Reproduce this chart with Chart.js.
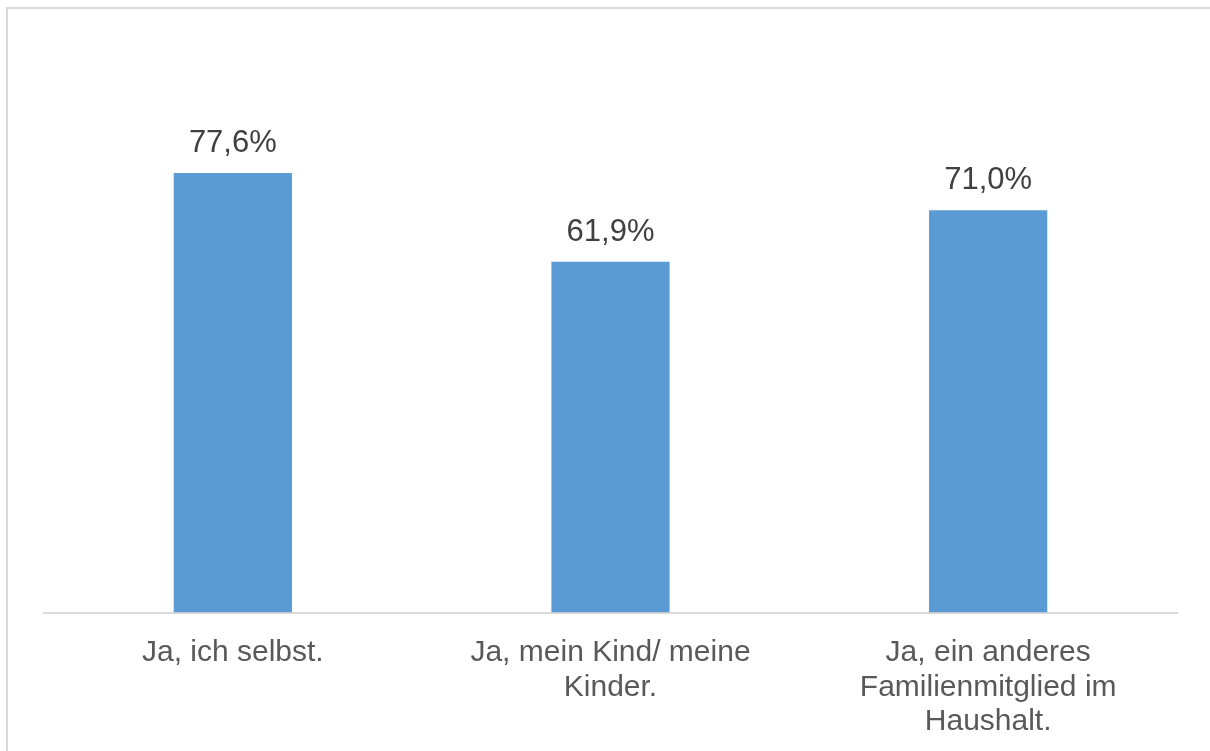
<!DOCTYPE html>
<html>
<head>
<meta charset="utf-8">
<script src="https://cdn.jsdelivr.net/npm/chart.js@4/dist/chart.umd.min.js"></script>
<style>
  html, body { margin: 0; padding: 0; background: #fff; overflow: hidden; }
  #wrap { width: 1210px; height: 751px; position: relative; overflow: hidden; }
</style>
</head>
<body>
<div id="wrap"><canvas id="chart" width="1210" height="762"></canvas></div>
<script>
// categories (multi-line as in the picture)
const categories = [
  ['Ja, ich selbst.'],
  ['Ja, mein Kind/ meine', 'Kinder.'],
  ['Ja, ein anderes', 'Familienmitglied im', 'Haushalt.']
];
const shares = [77.6, 61.9, 71.0];

// light frame round the chart, cut off at right/bottom like the source
const framePlugin = {
  id: 'frame',
  beforeDraw(chart) {
    const c = chart.ctx;
    c.save();
    c.strokeStyle = '#d9d9d9';
    c.lineWidth = 2;
    c.strokeRect(7, 8, 1400, 900);
    c.restore();
  }
};

// value labels above each bar, German decimal comma
const valueLabels = {
  id: 'valueLabels',
  afterDatasetsDraw(chart) {
    const c = chart.ctx;
    const meta = chart.getDatasetMeta(0);
    c.save();
    c.font = '31px "Liberation Sans", Arial, sans-serif';
    c.fillStyle = '#404040';
    c.textAlign = 'center';
    c.textBaseline = 'alphabetic';
    meta.data.forEach((bar, i) => {
      const txt = shares[i].toFixed(1).replace('.', ',') + '%';
      c.fillText(txt, bar.x, bar.y - 21);
    });
    c.restore();
  }
};

new Chart(document.getElementById('chart'), {
  type: 'bar',
  data: {
    labels: categories,
    datasets: [{
      data: shares,
      backgroundColor: '#5b9bd5',
      borderWidth: 0,
      categoryPercentage: 1,
      barPercentage: 0.313
    }]
  },
  options: {
    responsive: false,
    animation: false,
    layout: { padding: { left: 44, right: 33, top: 46, bottom: 0 } },
    plugins: { legend: { display: false }, tooltip: { enabled: false } },
    scales: {
      y: { display: false, min: 0, max: 100 },
      x: {
        grid: { display: false, drawTicks: false },
        border: { display: true, color: '#d9d9d9', width: 2 },
        ticks: {
          color: '#595959',
          font: { family: '"Liberation Sans", Arial, sans-serif', size: 30, lineHeight: 1.15 },
          padding: 23,
          maxRotation: 0,
          autoSkip: false
        }
      }
    }
  },
  plugins: [framePlugin, valueLabels]
});
</script>
</body>
</html>
